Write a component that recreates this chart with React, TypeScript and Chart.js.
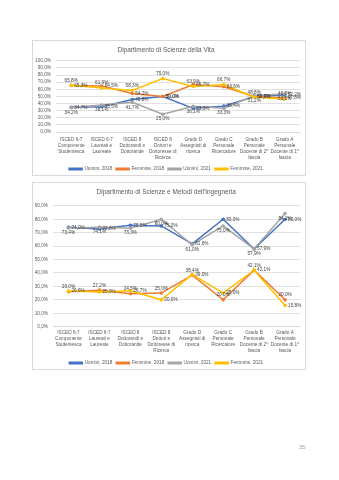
import React, { useEffect, useRef } from "react";
import { Chart, registerables } from "chart.js";
Chart.register(...registerables);

const categories: string[][] = [
  ["ISCED 6-7", "Componente", "Studentesca"],
  ["ISCED 6-7", "Laureati e", "Laureate"],
  ["ISCED 8", "Dottorandi e", "Dottorande"],
  ["ISCED 8", "Dottori e", "Dottoresse di", "Ricerca"],
  ["Grado D", "Assegnisti di", "ricerca"],
  ["Grado C", "Personale", "Ricercatore"],
  ["Grado B", "Personale", "Docente di 2^", "fascia"],
  ["Grado A", "Personale", "Docente di 1^", "fascia"],
];
const seriesNames = ["Uomini, 2018", "Femmine, 2018", "Uomini, 2021", "Femmine, 2021"];
const seriesColors = ["#4472C4", "#ED7D31", "#A5A5A5", "#FFC000"];

const vitaTitle = "Dipartimento di Scienze della Vita";
const vitaUomini2018 = [34.7, 35.5, 45.8, 50.0, 33.3, 36.4, 50.0, 52.2];
const vitaFemmine2018 = [65.3, 64.5, 54.2, 50.0, 66.7, 63.6, 50.0, 47.8];
const vitaUomini2021 = [34.2, 38.1, 41.7, 25.0, 36.1, 33.3, 51.2, 53.5];
const vitaFemmine2021 = [65.8, 61.9, 58.3, 75.0, 63.9, 66.7, 48.8, 46.5];

const ingTitle = "Dipartimento di Scienze e Metodi dell'Ingegneria";
const ingUomini2018 = [74.0, 72.8, 75.5, 75.0, 61.6, 80.0, 57.9, 80.0];
const ingFemmine2018 = [26.0, 27.2, 24.5, 25.0, 38.4, 20.0, 42.1, 20.0];
const ingUomini2021 = [73.4, 74.1, 73.3, 80.0, 61.0, 75.0, 57.9, 84.2];
const ingFemmine2021 = [26.6, 25.9, 26.7, 20.0, 39.0, 25.0, 42.1, 15.8];

const FONT = "'Liberation Sans', sans-serif";
const SMALL = 4.7;

const fmt = (v: number) => v.toFixed(1).replace(".", ",") + "%";

const valueLabels = {
  id: "valueLabels",
  afterDatasetsDraw(chart: any, _args: any, opts: any) {
    const ctx = chart.ctx;
    ctx.save();
    ctx.font = `${SMALL}px ${FONT}`;
    ctx.fillStyle = "#404040";
    chart.data.datasets.forEach((ds: any, i: number) => {
      const meta = chart.getDatasetMeta(i);
      const pos = (opts.positions || [])[i] || "right";
      meta.data.forEach((pt: any, j: number) => {
        const t = fmt(ds.data[j]);
        let x = pt.x, y = pt.y;
        if (pos === "right") { ctx.textAlign = "left"; ctx.textBaseline = "middle"; x += 3; }
        else if (pos === "left") { ctx.textAlign = "right"; ctx.textBaseline = "middle"; x -= 3; }
        else if (pos === "above") { ctx.textAlign = "center"; ctx.textBaseline = "bottom"; y -= 2.5; }
        else { ctx.textAlign = "center"; ctx.textBaseline = "top"; y += 2.5; }
        ctx.fillText(t, x, y);
      });
    });
    ctx.restore();
  },
};

type Props = {
  title: string;
  series: number[][];
  yMax: number;
  left: number; top: number; width: number; height: number;
  yWidth: number; xHeight: number; xPad: number;
  titleBottom: number; bottomPad: number; rightPad: number;
  positions: string[];
};

function LineBox(p: Props) {
  const ref = useRef<HTMLCanvasElement>(null);
  useEffect(() => {
    const chart = new Chart(ref.current!, {
      type: "line",
      data: {
        labels: categories,
        datasets: p.series.map((d, i) => ({
          label: seriesNames[i],
          data: d,
          borderColor: seriesColors[i],
          backgroundColor: seriesColors[i],
          borderWidth: 1.5,
          pointRadius: 1.8,
          pointBorderWidth: 0,
          pointBackgroundColor: seriesColors[i],
          order: 3 - i,
          tension: 0,
        })),
      },
      options: {
        responsive: false,
        animation: false,
        devicePixelRatio: 1,
        layout: { padding: { left: 0, right: p.rightPad, top: 0, bottom: p.bottomPad } },
        plugins: {
          title: {
            display: true,
            text: p.title,
            color: "#595959",
            font: { family: FONT, size: 6.5, weight: "normal" },
            padding: { top: 6, bottom: p.titleBottom },
          },
          legend: {
            position: "bottom",
            labels: {
              boxWidth: 13,
              boxHeight: 1.5,
              padding: 4,
              color: "#595959",
              font: { family: FONT, size: SMALL },
              sort: (a: any, b: any) => a.datasetIndex - b.datasetIndex,
            },
          },
          tooltip: { enabled: false },
          valueLabels: { positions: p.positions },
        } as any,
        scales: {
          x: {
            offset: true,
            grid: { display: false, drawTicks: false },
            border: { display: true, color: "#d9d9d9", width: 0.8 },
            ticks: {
              color: "#595959",
              font: { family: FONT, size: SMALL, lineHeight: 1.28 },
              padding: p.xPad,
              maxRotation: 0,
              autoSkip: false,
            },
            afterFit: (s: any) => { s.height = p.xHeight; },
          },
          y: {
            min: 0,
            max: p.yMax,
            grid: { color: "#d9d9d9", lineWidth: 0.8, drawTicks: false },
            border: { display: false },
            ticks: {
              stepSize: 10,
              autoSkip: false,
              color: "#595959",
              font: { family: FONT, size: SMALL },
              padding: 5,
              callback: (v: any) => fmt(Number(v)),
            },
            afterFit: (s: any) => { s.width = p.yWidth; },
          },
        },
      },
      plugins: [valueLabels as any],
    });
    return () => chart.destroy();
  }, []);
  return (
    <div style={{ position: "absolute", left: p.left, top: p.top, width: p.width, height: p.height, border: "1px solid #d9d9d9", boxSizing: "border-box", background: "#fff" }}>
      <canvas ref={ref} width={p.width} height={p.height} style={{ position: "absolute", left: -1, top: -1, width: p.width, height: p.height }} />
    </div>
  );
}

export default function App() {
  return (
    <div style={{ position: "absolute", left: 0, top: 0, width: 339, height: 480, background: "#fff", overflow: "hidden" }}>
      <LineBox
        title={vitaTitle}
        series={[vitaUomini2018, vitaFemmine2018, vitaUomini2021, vitaFemmine2021]}
        yMax={100}
        left={32} top={40} width={274} height={136}
        yWidth={24} xHeight={30.6} xPad={5}
        titleBottom={7} bottomPad={-5.4} rightPad={6}
        positions={["right", "right", "below", "above"]}
      />
      <LineBox
        title={ingTitle}
        series={[ingUomini2018, ingFemmine2018, ingUomini2021, ingFemmine2021]}
        yMax={90}
        left={32} top={182} width={274} height={188}
        yWidth={21} xHeight={30} xPad={3}
        titleBottom={10} bottomPad={-5.4} rightPad={5.5}
        positions={["right", "above", "below", "right"]}
      />
      <div style={{ position: "absolute", left: 296, top: 444, width: 12, textAlign: "center", fontFamily: FONT, fontSize: 6, color: "#a6a6a6" }}>35</div>
    </div>
  );
}
